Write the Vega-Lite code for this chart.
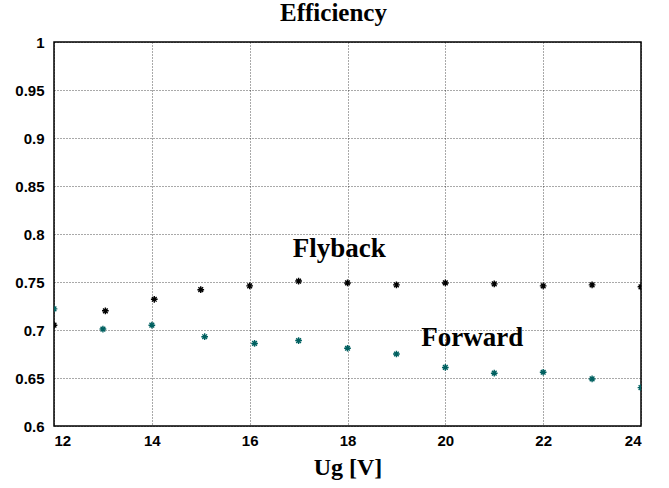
{
  "$schema": "https://vega.github.io/schema/vega-lite/v6.json",
  "width": 587,
  "height": 384,
  "autosize": {"type": "none"},
  "padding": {"left": 54, "top": 42, "right": 28, "bottom": 62},
  "background": "white",
  "title": {"text": "Efficiency", "font": "Liberation Serif", "fontSize": 25, "fontWeight": "bold", "color": "black", "offset": 9, "dx": -14},
  "config": {"view": {"stroke": "black", "strokeWidth": 1.5}},
  "datasets": {
    "pts": [
      {"U": 12, "eff": 0.705, "series": "Flyback"},
      {"U": 13.05, "eff": 0.72, "series": "Flyback"},
      {"U": 14.05, "eff": 0.732, "series": "Flyback"},
      {"U": 15, "eff": 0.742, "series": "Flyback"},
      {"U": 16, "eff": 0.746, "series": "Flyback"},
      {"U": 17, "eff": 0.751, "series": "Flyback"},
      {"U": 18, "eff": 0.749, "series": "Flyback"},
      {"U": 19, "eff": 0.747, "series": "Flyback"},
      {"U": 20, "eff": 0.749, "series": "Flyback"},
      {"U": 21, "eff": 0.748, "series": "Flyback"},
      {"U": 22, "eff": 0.746, "series": "Flyback"},
      {"U": 23, "eff": 0.747, "series": "Flyback"},
      {"U": 24, "eff": 0.745, "series": "Flyback"},
      {"U": 12, "eff": 0.722, "series": "Forward"},
      {"U": 13, "eff": 0.701, "series": "Forward"},
      {"U": 14, "eff": 0.705, "series": "Forward"},
      {"U": 15.08, "eff": 0.693, "series": "Forward"},
      {"U": 16.1, "eff": 0.686, "series": "Forward"},
      {"U": 17, "eff": 0.689, "series": "Forward"},
      {"U": 18, "eff": 0.681, "series": "Forward"},
      {"U": 19, "eff": 0.675, "series": "Forward"},
      {"U": 20, "eff": 0.661, "series": "Forward"},
      {"U": 21, "eff": 0.655, "series": "Forward"},
      {"U": 22, "eff": 0.656, "series": "Forward"},
      {"U": 23, "eff": 0.649, "series": "Forward"},
      {"U": 24, "eff": 0.64, "series": "Forward"}
    ],
    "labels": [
      {"U": 17.83, "eff": 0.776, "label": "Flyback"},
      {"U": 20.55, "eff": 0.683, "label": "Forward"}
    ]
  },
  "layer": [
    {
      "data": {"name": "pts"},
      "mark": {"type": "point", "shape": "M-1,0L1,0M0,-1L0,1M-0.7,-0.7L0.7,0.7M-0.7,0.7L0.7,-0.7", "filled": false, "size": 45, "strokeWidth": 1.4, "opacity": 1, "clip": true},
      "encoding": {
        "x": {
          "field": "U", "type": "quantitative",
          "scale": {"domain": [12, 24], "nice": false, "zero": false},
          "axis": {
            "values": [12, 14, 16, 18, 20, 22, 24],
            "title": "Ug [V]",
            "titleFont": "Liberation Serif", "titleFontSize": 24, "titleFontWeight": "bold", "titleColor": "black", "titlePadding": 7,
            "labelFont": "Liberation Sans", "labelFontSize": 15, "labelFontWeight": "bold", "labelColor": "black", "labelPadding": 7,
            "ticks": false, "domain": false,
            "grid": true, "gridColor": "#000", "gridDash": [1, 2], "gridOpacity": 0.85, "gridWidth": 0.8
          }
        },
        "y": {
          "field": "eff", "type": "quantitative",
          "scale": {"domain": [0.6, 1], "nice": false, "zero": false},
          "axis": {
            "values": [0.6, 0.65, 0.7, 0.75, 0.8, 0.85, 0.9, 0.95, 1],
            "format": "~g",
            "title": null,
            "labelFont": "Liberation Sans", "labelFontSize": 15, "labelFontWeight": "bold", "labelColor": "black", "labelPadding": 10,
            "ticks": false, "domain": false,
            "grid": true, "gridColor": "#000", "gridDash": [1, 2], "gridOpacity": 0.85, "gridWidth": 0.8
          }
        },
        "color": {
          "field": "series", "type": "nominal",
          "scale": {"domain": ["Flyback", "Forward"], "range": ["#000000", "#006060"]},
          "legend": null
        }
      }
    },
    {
      "data": {"name": "labels"},
      "mark": {"type": "text", "font": "Liberation Serif", "fontSize": 27, "fontWeight": "bold", "color": "black", "align": "center", "baseline": "alphabetic"},
      "encoding": {
        "x": {"field": "U", "type": "quantitative"},
        "y": {"field": "eff", "type": "quantitative"},
        "text": {"field": "label"}
      }
    }
  ]
}
